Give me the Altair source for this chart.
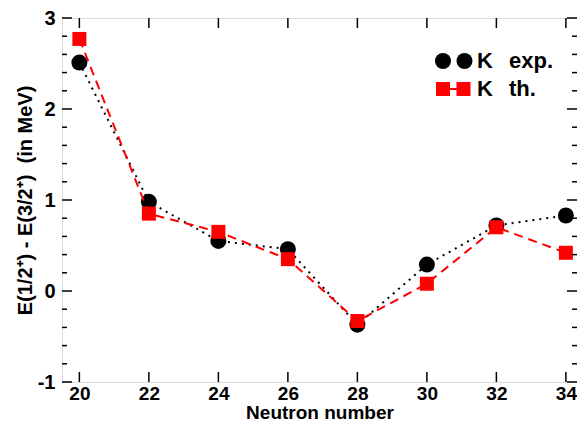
import altair as alt
import pandas as pd

neutrons = [20, 22, 24, 26, 28, 30, 32, 34]
k_exp = [2.51, 0.98, 0.55, 0.46, -0.37, 0.29, 0.72, 0.83]
k_th = [2.77, 0.85, 0.65, 0.35, -0.33, 0.08, 0.70, 0.42]

x_major = [20, 22, 24, 26, 28, 30, 32, 34]
y_major = [-1, 0, 1, 2, 3]
y_minor = [round(-1 + 0.2 * i, 1) for i in range(21) if i % 5 != 0]

W, H = 515, 364
FONT = "Liberation Sans"
NB = "\u00a0"

xs = alt.Scale(domain=[19.5, 34.32], nice=False, zero=False)
ys = alt.Scale(domain=[-1, 3], nice=False, zero=False)

df = pd.DataFrame({"N": neutrons, "exp": k_exp, "th": k_th})

base = alt.Chart(df)

x_enc = alt.X(
    "N:Q", scale=xs,
    axis=alt.Axis(values=x_major, ticks=False, domain=False, grid=False,
                  title="Neutron number", format="d",
                  labelFont=FONT, labelFontWeight="bold", labelFontSize=19,
                  labelColor="black", labelPadding=2,
                  titleFont=FONT, titleFontWeight="bold", titleFontSize=19,
                  titleColor="black", titlePadding=0))

y_axis = alt.Axis(values=y_major, ticks=False, domain=False, grid=False,
                  title=f"E(1/2⁺) - E(3/2⁺){NB}{NB}(in MeV)",
                  labelExpr="datum.value < 0 ? '-' + abs(datum.value) : '' + datum.value",
                  labelFont=FONT, labelFontWeight="bold", labelFontSize=20,
                  labelColor="black", labelPadding=7,
                  titleFont=FONT, titleFontWeight="bold", titleFontSize=20,
                  titleColor="black", titlePadding=2)

exp_line = base.mark_line(color="black", strokeWidth=2, strokeDash=[2, 5]).encode(
    x=x_enc, y=alt.Y("exp:Q", scale=ys, axis=y_axis))
exp_pts = base.mark_point(shape="circle", filled=True, color="black", size=256, opacity=1).encode(
    x=alt.X("N:Q", scale=xs), y=alt.Y("exp:Q", scale=ys))
th_line = base.mark_line(color="#ff0000", strokeWidth=2, strokeDash=[9, 6]).encode(
    x=alt.X("N:Q", scale=xs), y=alt.Y("th:Q", scale=ys))
th_pts = base.mark_point(shape="square", filled=True, color="#ff0000", size=196, opacity=1).encode(
    x=alt.X("N:Q", scale=xs), y=alt.Y("th:Q", scale=ys))

# inward ticks
ymaj = pd.DataFrame({"v": y_major})
ymin = pd.DataFrame({"v": y_minor})
xmaj = pd.DataFrame({"v": x_major})

def yticks(d, x0, x1):
    return alt.Chart(d).mark_rule(color="black", strokeWidth=1.5).encode(
        y=alt.Y("v:Q", scale=ys), x=alt.value(x0), x2=alt.value(x1))

def xticks(d, y0, y1):
    return alt.Chart(d).mark_rule(color="black", strokeWidth=1.5).encode(
        x=alt.X("v:Q", scale=xs), y=alt.value(y0), y2=alt.value(y1))

ticks = [
    yticks(ymaj, 0, 10), yticks(ymin, 0, 5),
    yticks(ymaj, W, W - 10), yticks(ymin, W, W - 5),
    xticks(xmaj, H, H - 10), xticks(xmaj, 0, 10),
]

# legend
leg_c = pd.DataFrame({"lx": [381, 402.5], "ly": [43, 43]})
leg_s = pd.DataFrame({"lx": [381, 401.5], "ly": [71, 71]})

def leg_text(t, x, y):
    return alt.Chart(pd.DataFrame({"t": [t]})).mark_text(
        font=FONT, fontWeight="bold", fontSize=22, align="left", baseline="middle",
        color="black").encode(text="t:N", x=alt.value(x), y=alt.value(y))

legend = [
    alt.Chart(leg_c).mark_point(shape="circle", filled=True, color="black", size=256, opacity=1).encode(
        x=alt.X("lx:Q", scale=None), y=alt.Y("ly:Q", scale=None)),
    alt.Chart(leg_s).mark_line(color="#ff0000", strokeWidth=2).encode(
        x=alt.X("lx:Q", scale=None), y=alt.Y("ly:Q", scale=None)),
    alt.Chart(leg_s).mark_point(shape="square", filled=True, color="#ff0000", size=196, opacity=1).encode(
        x=alt.X("lx:Q", scale=None), y=alt.Y("ly:Q", scale=None)),
    leg_text("K", 415, 43), leg_text("exp.", 447, 43),
    leg_text("K", 415, 71), leg_text("th.", 447, 71),
]

chart = alt.layer(exp_line, exp_pts, th_line, th_pts, *ticks, *legend).properties(
    width=W, height=H,
    autosize=alt.AutoSizeParams(type="none"),
    padding={"left": 54, "top": 10, "right": 0, "bottom": 40},
).configure_view(stroke="black", strokeWidth=2).configure(background="white")

chart.save("out.html", embed_options={"renderer": "svg", "actions": False})
